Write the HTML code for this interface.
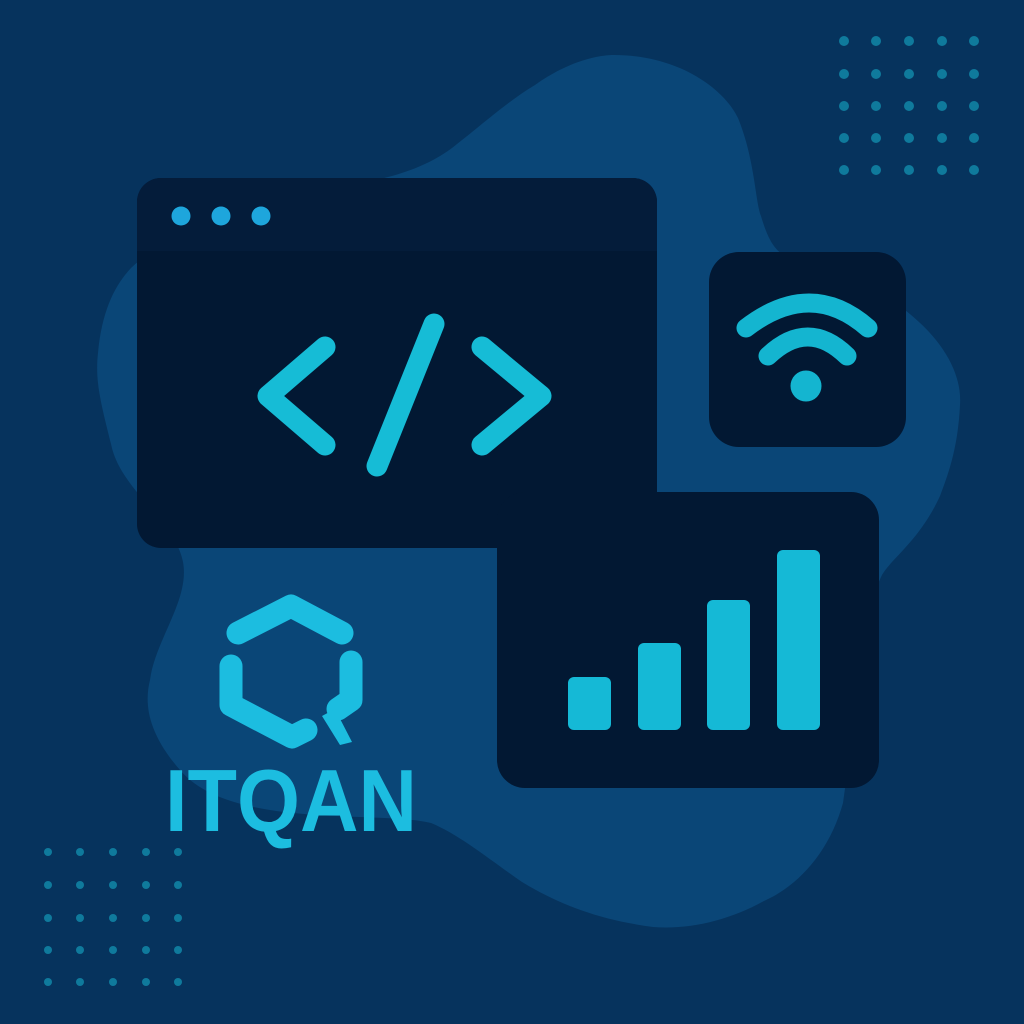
<!DOCTYPE html>
<html><head><meta charset="utf-8"><style>
html,body{margin:0;padding:0;background:#06335d;}
svg{display:block}
</style></head><body>
<svg width="1024" height="1024" viewBox="0 0 1024 1024" xmlns="http://www.w3.org/2000/svg">
<rect width="1024" height="1024" fill="#06335d"/>
<path d="M535,85 C570,60 600,55 614,55 C680,55 725,90 738,118 C755,160 755,200 761,216 C768,240 775,250 784,255 C830,275 870,285 901,307 C945,340 962,375 960,405 C958,445 950,470 940,496 C920,540 890,560 882,575 C860,620 855,720 843,803 C830,850 800,885 764,901 C730,920 690,930 653,927 C600,920 560,905 522,882 C490,860 460,835 431,823 C380,810 230,830 180,770 C145,730 145,700 150,680 C155,640 190,600 183,562 C175,520 120,490 111,444 C100,400 95,380 98,353 C102,310 115,285 131,268 C180,220 300,200 392,176 C420,168 440,158 457,144 C490,118 510,100 535,85 Z" fill="#0a4677"/>
<g fill="#0f7a9c">
<circle cx="844" cy="41" r="5"/><circle cx="876" cy="41" r="5"/><circle cx="909" cy="41" r="5"/><circle cx="942" cy="41" r="5"/><circle cx="974" cy="41" r="5"/>
<circle cx="844" cy="74" r="5"/><circle cx="876" cy="74" r="5"/><circle cx="909" cy="74" r="5"/><circle cx="942" cy="74" r="5"/><circle cx="974" cy="74" r="5"/>
<circle cx="844" cy="106" r="5"/><circle cx="876" cy="106" r="5"/><circle cx="909" cy="106" r="5"/><circle cx="942" cy="106" r="5"/><circle cx="974" cy="106" r="5"/>
<circle cx="844" cy="138" r="5"/><circle cx="876" cy="138" r="5"/><circle cx="909" cy="138" r="5"/><circle cx="942" cy="138" r="5"/><circle cx="974" cy="138" r="5"/>
<circle cx="844" cy="170" r="5"/><circle cx="876" cy="170" r="5"/><circle cx="909" cy="170" r="5"/><circle cx="942" cy="170" r="5"/><circle cx="974" cy="170" r="5"/>
<circle cx="48" cy="852" r="4"/><circle cx="80" cy="852" r="4"/><circle cx="113" cy="852" r="4"/><circle cx="146" cy="852" r="4"/><circle cx="178" cy="852" r="4"/>
<circle cx="48" cy="885" r="4"/><circle cx="80" cy="885" r="4"/><circle cx="113" cy="885" r="4"/><circle cx="146" cy="885" r="4"/><circle cx="178" cy="885" r="4"/>
<circle cx="48" cy="918" r="4"/><circle cx="80" cy="918" r="4"/><circle cx="113" cy="918" r="4"/><circle cx="146" cy="918" r="4"/><circle cx="178" cy="918" r="4"/>
<circle cx="48" cy="950" r="4"/><circle cx="80" cy="950" r="4"/><circle cx="113" cy="950" r="4"/><circle cx="146" cy="950" r="4"/><circle cx="178" cy="950" r="4"/>
<circle cx="48" cy="982" r="4"/><circle cx="80" cy="982" r="4"/><circle cx="113" cy="982" r="4"/><circle cx="146" cy="982" r="4"/><circle cx="178" cy="982" r="4"/>
</g>
<rect x="137" y="178" width="520" height="370" rx="24" fill="#021833"/>
<path d="M161,178 H633 A24,24 0 0 1 657,202 V251 H137 V202 A24,24 0 0 1 161,178 Z" fill="#041c3a"/>
<g fill="#1ea6dc"><circle cx="181" cy="216" r="9.5"/><circle cx="221" cy="216" r="9.5"/><circle cx="261" cy="216" r="9.5"/></g>
<g stroke="#16bcd6" stroke-width="21" stroke-linecap="round" stroke-linejoin="round" fill="none">
<polyline points="325,347 268,396 325,445"/>
<line x1="434" y1="324" x2="377" y2="466"/>
<polyline points="482,347 541,396 482,445"/>
</g>
<rect x="709" y="252" width="197" height="195" rx="30" fill="#021833"/>
<g stroke="#14b5d0" stroke-width="19" stroke-linecap="round" fill="none">
<path d="M746,328 Q811,278 868,328"/>
<path d="M768,356 Q808,318 847,356"/>
</g>
<circle cx="806" cy="386" r="15.5" fill="#14b5d0"/>
<rect x="497" y="492" width="382" height="296" rx="28" fill="#021833"/>
<g fill="#15b9d6">
<rect x="568" y="677" width="43" height="53" rx="6"/>
<rect x="638" y="643" width="43" height="87" rx="6"/>
<rect x="707" y="600" width="43" height="130" rx="6"/>
<rect x="777" y="550" width="43" height="180" rx="6"/>
</g>
<g stroke="#1cbde0" stroke-width="23" stroke-linejoin="round" stroke-linecap="round" fill="none">
<polyline points="238,633 291,606 342,633"/>
<polyline points="231,666 231,705 292,737 306,730"/>
<polyline points="351,662 351,700 338,709"/>
</g>
<polygon points="322,716 335,709 352,742 340,745" fill="#1cbde0"/>
<text x="165" y="831" style="font-family:'Liberation Sans',sans-serif;font-weight:700;font-size:88px" fill="#1cbde0" textLength="252" lengthAdjust="spacingAndGlyphs">ITQAN</text>
</svg>
</body></html>
